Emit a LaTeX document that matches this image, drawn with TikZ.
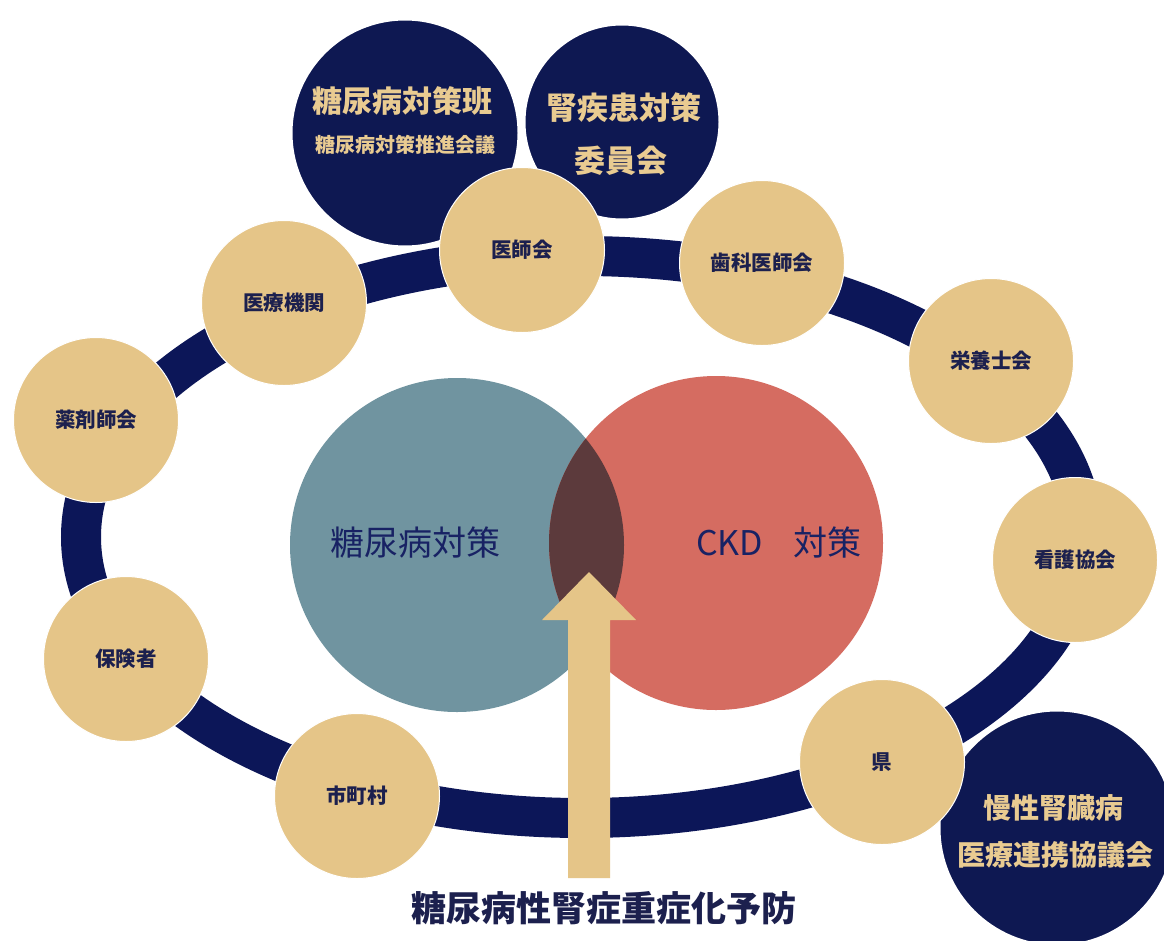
\documentclass[tikz,border=0pt]{standalone}
\usepackage{fontspec}
\setmainfont{Noto Sans CJK JP}
\definecolor{navyc}{RGB}{12,22,88}
\definecolor{darkc}{RGB}{14,24,82}
\definecolor{tanc}{RGB}{229,197,136}
\definecolor{tantext}{RGB}{233,203,145}
\definecolor{labelc}{RGB}{28,32,78}
\definecolor{bluec}{RGB}{112,148,160}
\definecolor{redc}{RGB}{213,108,97}
\definecolor{interc}{RGB}{92,58,60}
\definecolor{venntext}{RGB}{24,34,100}
\begin{document}
\begin{tikzpicture}[x=1pt,y=-1pt,
  member/.style={circle, fill=tanc, draw=white, line width=1pt, minimum size=165pt, inner sep=0pt,
    font=\fontsize{20.5}{24}\selectfont\bfseries, text=labelc},
  council/.style={circle, fill=darkc, draw=white, line width=3pt, inner sep=0pt},
  ctext/.style={font=\fontsize{#1}{#1}\selectfont\bfseries, text=tantext, inner sep=0pt},
  venn/.style={circle, inner sep=0pt, minimum size=334pt},
  vtext/.style={font=\fontsize{34}{38}\selectfont, text=venntext, inner sep=0pt}]
\useasboundingbox (0,0) rectangle (1164,940);
\fill[white] (0,0) rectangle (1164,940);

% ring
\draw[navyc, line width=40pt] (582,537) ellipse [x radius=501, y radius=281];

% councils
\node[council, minimum size=228pt] (c1) at (405,133) {};
\node[council, minimum size=196pt] (c2) at (622,122) {};
\node[council, minimum size=236pt] (c3) at (1057,828) {};
\node[ctext=30] (c1a) at (402,101) {糖尿病対策班};
\node[ctext=20] (c1b) at (405,145) {糖尿病対策推進会議};
\node[ctext=31] (c2a) at (624,108) {腎疾患対策};
\node[ctext=31] (c2b) at (621,161) {委員会};
\node[ctext=28] (c3a) at (1053,808) {慢性腎臓病};
\node[ctext=28] (c3b) at (1055,855) {医療連携協議会};

% members
\node[member] (ishikai) at (522,250) {医師会};
\node[member] (shika) at (762,263) {歯科医師会};
\node[member] (eiyo) at (991,361) {栄養士会};
\node[member] (kango) at (1075,560) {看護協会};
\node[member] (ken) at (882,762) {県};
\node[member] (shicho) at (357,796) {市町村};
\node[member] (hoken) at (126,659) {保険者};
\node[member] (yakuzai) at (96,420) {薬剤師会};
\node[member] (iryo) at (284,303) {医療機関};

% venn
\node[venn, fill=bluec] (dm) at (457,545) {};
\node[venn, fill=redc] (ckd) at (716,543) {};
\begin{scope}
  \clip (dm.center) circle [radius=167];
  \fill[interc] (ckd.center) circle [radius=167];
\end{scope}
\node[vtext] (dmt) at (415,543) {糖尿病対策};
\node[vtext] (ckdt) at (779,543) {CKD\hspace{0.9em}対策};

% arrow
\coordinate (atip) at (589,572);
\coordinate (abase) at (589,878);
\fill[tanc] (568,878) -- (568,620) -- (542,620) -- (atip) -- (636,620) -- (610,620) -- (610,878) -- cycle;

\node[font=\fontsize{35}{40}\selectfont\bfseries, text=labelc, inner sep=0pt] (goal) at (604,908) {糖尿病性腎症重症化予防};
\end{tikzpicture}
\end{document}
